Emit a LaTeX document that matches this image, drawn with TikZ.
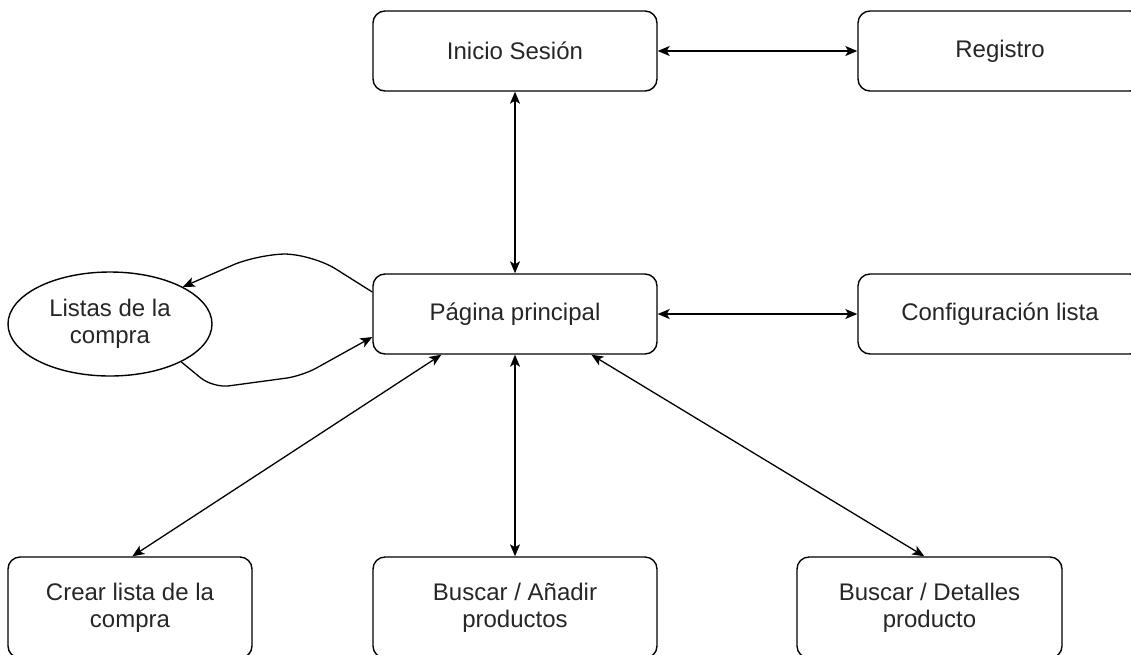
\documentclass[tikz,border=0pt]{standalone}
\usepackage{fontspec}
\setmainfont{Liberation Sans}
\usetikzlibrary{arrows.meta,calc,shapes.geometric}
\begin{document}
\begin{tikzpicture}[x=1pt,y=-1pt,
  box/.style={draw, rounded corners=12pt, line width=1.4pt, align=center, inner sep=0pt,
    text=black!85, font=\fontsize{24}{27}\selectfont},
  tip/.tip={Stealth[length=12pt,width=10pt,inset=3pt]},
  link/.style={line width=1.3pt, tip-tip},
  one/.style={line width=1.3pt, -tip}]
\clip (0,0) rectangle (1131,654);
\node[box, minimum width=284pt, minimum height=80pt] (ini) at (515,51) {Inicio Sesión};
\node[box, minimum width=284pt, minimum height=80pt] (reg) at (1000,51) {Registro};
\node[box, minimum width=284pt, minimum height=80pt] (pag) at (515,314) {Página principal};
\node[box, minimum width=284pt, minimum height=80pt] (cfg) at (1000,314) {Configuración lista};
\node[box, ellipse, minimum width=204pt, minimum height=104pt] (lis) at (110,324) {Listas de la\\compra};
\node[box, minimum width=244pt, minimum height=101pt] (cre) at (130,607.5) {Crear lista de la\\compra};
\node[box, minimum width=284pt, minimum height=101pt] (bus) at (515,607.5) {Buscar / Añadir\\productos};
\node[box, minimum width=265pt, minimum height=101pt] (det) at (929.5,607.5) {Buscar / Detalles\\producto};

\draw[link] (ini.east) -- (reg.west);
\draw[link] (ini.south) -- (pag.north);
\draw[link] (pag.east) -- (cfg.west);
\draw[link] (pag.south) -- (bus.north);
\draw[link] ($(pag.south west)+(69,0)$) -- ($(cre.north west)+(125,0)$);
\draw[link] ($(pag.south west)+(219,0)$) -- ($(det.north west)+(128,0)$);
\draw[one, rounded corners=28pt] ($(pag.west)+(0,-22)$) -- (312,254) -- (258,254) -- (lis.27);
\draw[one, rounded corners=16pt] (lis.-28) -- (213,388) -- (302,376) -- ($(pag.west)+(0,23)$);
\end{tikzpicture}
\end{document}
